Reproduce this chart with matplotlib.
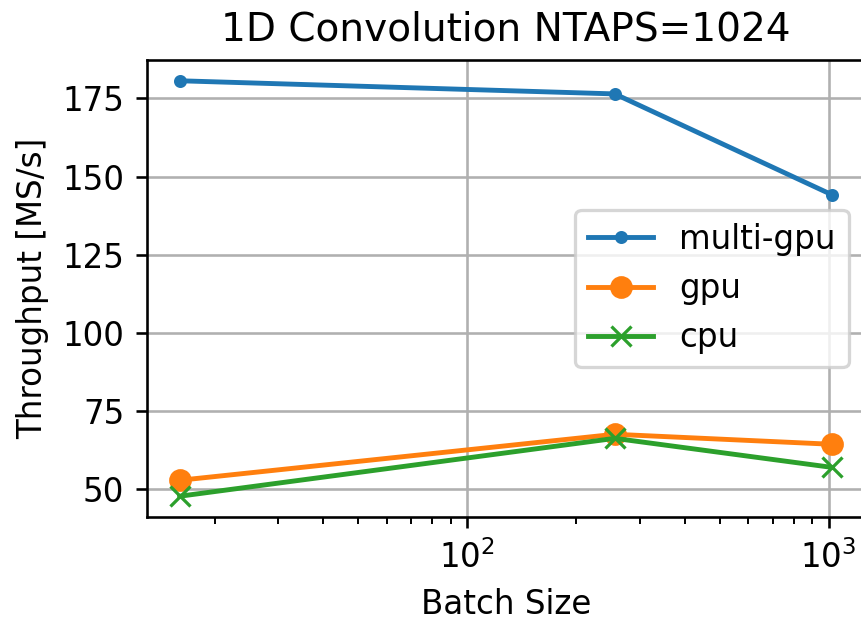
import matplotlib
matplotlib.use("Agg")
import matplotlib.pyplot as plt

batch = [16, 256, 1024]
multi_gpu = [180.6, 176.4, 144.1]
gpu = [52.9, 67.6, 64.4]
cpu = [47.8, 66.3, 57.0]

dpi = 234
fig = plt.figure(figsize=(861 / dpi, 623 / dpi), dpi=dpi)
# axes runs a little past the right edge, as in the cropped original
ax = fig.add_axes([147 / 861, 1 - 517 / 623, 718 / 861, 457 / 623])

ax.plot(batch, multi_gpu, marker=".", label="multi-gpu")
ax.plot(batch, gpu, marker="o", label="gpu")
ax.plot(batch, cpu, marker="x", label="cpu")
ax.set_xscale("log")
ax.set_title("1D Convolution NTAPS=1024")
ax.set_xlabel("Batch Size")
ax.set_ylabel("Throughput [MS/s]")
ax.grid(True)
ax.legend(loc="center right")

fig.savefig("out.png", dpi=dpi)
